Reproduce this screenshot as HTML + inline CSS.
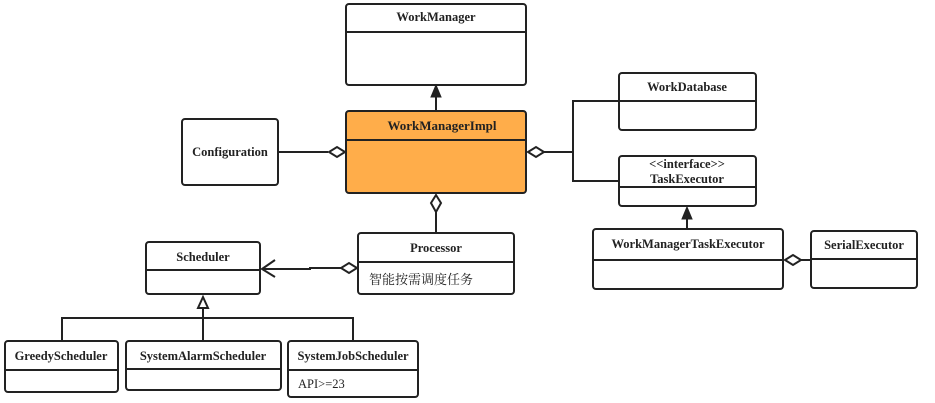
<!DOCTYPE html>
<html><head><meta charset="utf-8"><style>
html,body{margin:0;padding:0;background:#fff}
svg{display:block}
text{font-family:"Liberation Serif","Noto Serif CJK SC",serif;font-size:12.5px;fill:#222}
.b{font-weight:bold}
.box{fill:#fff;stroke:#222;stroke-width:2}
.ln{stroke:#222;stroke-width:2;fill:none}
.dm{fill:#fff;stroke:#222;stroke-width:2}
</style></head><body>
<svg width="935" height="403" viewBox="0 0 935 403" xmlns="http://www.w3.org/2000/svg">
<rect class="box" x="346" y="4" width="180" height="81" rx="3"/>
<line class="ln" x1="346" y1="32" x2="526" y2="32"/>
<text class="b" x="436" y="21" text-anchor="middle">WorkManager</text>
<rect x="346" y="111" width="180" height="82" rx="3" fill="#FFAD4A" stroke="#222" stroke-width="2"/>
<line class="ln" x1="346" y1="140" x2="526" y2="140"/>
<text class="b" x="442" y="130" text-anchor="middle" style="font-size:13px">WorkManagerImpl</text>
<rect class="box" x="182" y="119" width="96" height="66" rx="3"/>
<text class="b" x="230" y="156" text-anchor="middle">Configuration</text>
<rect class="box" x="619" y="73" width="137" height="57" rx="3"/>
<line class="ln" x1="619" y1="101" x2="756" y2="101"/>
<text class="b" x="687" y="91" text-anchor="middle">WorkDatabase</text>
<rect class="box" x="619" y="156" width="137" height="50" rx="3"/>
<line class="ln" x1="619" y1="187" x2="756" y2="187"/>
<text class="b" x="687" y="168" text-anchor="middle">&lt;&lt;interface&gt;&gt;</text>
<text class="b" x="687" y="183" text-anchor="middle">TaskExecutor</text>
<rect class="box" x="593" y="229" width="190" height="60" rx="3"/>
<line class="ln" x1="593" y1="260" x2="783" y2="260"/>
<text class="b" x="688" y="248" text-anchor="middle">WorkManagerTaskExecutor</text>
<rect class="box" x="811" y="231" width="106" height="57" rx="3"/>
<line class="ln" x1="811" y1="259" x2="917" y2="259"/>
<text class="b" x="864" y="249" text-anchor="middle">SerialExecutor</text>
<rect class="box" x="358" y="233" width="156" height="61" rx="3"/>
<line class="ln" x1="358" y1="262" x2="514" y2="262"/>
<text class="b" x="436" y="252" text-anchor="middle">Processor</text>
<text x="369" y="284" style="font-size:13px">智能按需调度任务</text>
<rect class="box" x="146" y="242" width="114" height="52" rx="3"/>
<line class="ln" x1="146" y1="270" x2="260" y2="270"/>
<text class="b" x="203" y="261" text-anchor="middle">Scheduler</text>
<rect class="box" x="5" y="341" width="113" height="51" rx="3"/>
<line class="ln" x1="5" y1="370" x2="118" y2="370"/>
<text class="b" x="61" y="360" text-anchor="middle">GreedyScheduler</text>
<rect class="box" x="126" y="341" width="155" height="49" rx="3"/>
<line class="ln" x1="126" y1="369" x2="281" y2="369"/>
<text class="b" x="203" y="360" text-anchor="middle">SystemAlarmScheduler</text>
<rect class="box" x="288" y="341" width="130" height="56" rx="3"/>
<line class="ln" x1="288" y1="370" x2="418" y2="370"/>
<text class="b" x="353" y="360" text-anchor="middle">SystemJobScheduler</text>
<text x="298" y="388">API&gt;=23</text>

<line class="ln" x1="436" y1="111" x2="436" y2="95"/>
<polygon points="436,85 431,97 441,97" fill="#222" stroke="#222" stroke-width="1"/>

<line class="ln" x1="278" y1="152" x2="328" y2="152"/>
<polygon class="dm" points="345,152 337,147 329,152 337,157"/>

<polygon class="dm" points="528,152 536,147 544,152 536,157"/>
<polyline class="ln" points="544,152 573,152"/>
<polyline class="ln" points="619,101 573,101 573,181 619,181"/>

<polygon class="dm" points="436,195 431,203 436,212 441,203"/>
<line class="ln" x1="436" y1="212" x2="436" y2="233"/>

<polygon class="dm" points="357,268 349,263 341,268 349,273"/>
<polyline class="ln" points="341,268 310,268 310,269 262,269"/>
<polyline class="ln" points="275,260 262,269 275,277"/>

<polygon points="203,297 198,308 208,308" fill="#fff" stroke="#222" stroke-width="2"/>
<line class="ln" x1="203" y1="308" x2="203" y2="341"/>
<polyline class="ln" points="62,341 62,318 353,318 353,341"/>

<line class="ln" x1="687" y1="229" x2="687" y2="217"/>
<polygon points="687,207 682,219 692,219" fill="#222" stroke="#222" stroke-width="1"/>

<polygon class="dm" points="785,260 793,255 801,260 793,265"/>
<line class="ln" x1="801" y1="260" x2="811" y2="260"/>
</svg>
</body></html>
